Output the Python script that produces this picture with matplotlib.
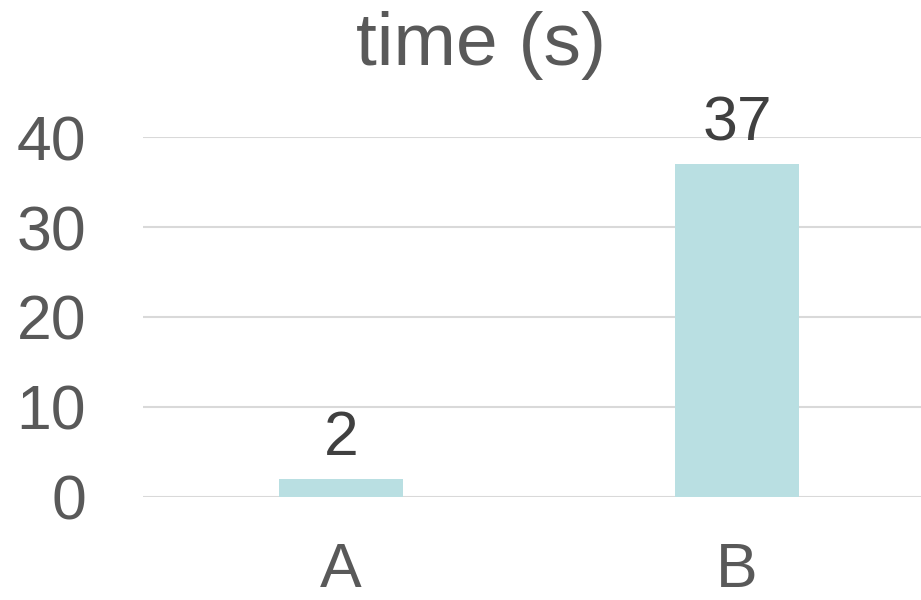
import matplotlib
matplotlib.use("Agg")
import matplotlib.pyplot as plt

categories = ["A", "B"]
values = [2, 37]
yticks = [0, 10, 20, 30, 40]
title = "time (s)"

plt.rcParams['font.family'] = ['Liberation Sans', 'DejaVu Sans']

W, H = 921, 600
fig = plt.figure(figsize=(W / 100, H / 100), dpi=100)
ax = fig.add_axes([143 / W, 103 / H, 792 / W, 360 / H])

x = list(range(len(categories)))
bars = ax.bar(x, values, width=0.313, color="#B9DFE2", zorder=3)
ax.set_xlim(-0.5, len(categories) - 0.5)
ax.set_ylim(0, 40)
ax.set_yticks(yticks)
ax.set_xticks(x)
ax.set_xticklabels(categories)

ax.grid(axis="y", color="#D9D9D9", linewidth=1.5, zorder=0)
for s in ax.spines.values():
    s.set_visible(False)
ax.tick_params(axis="both", length=0, labelsize=45, labelcolor="#595959")
ax.tick_params(axis="y", pad=41)
ax.tick_params(axis="x", pad=32)

for xi, v in zip(x, values):
    ax.annotate(str(v), (xi, v), xytext=(0, 17), textcoords="offset points",
                ha="center", va="baseline", fontsize=45, color="#404040")

fig.text(481 / W, 1 - 65 / H, title, ha="center", va="baseline",
         fontsize=54, color="#595959")

fig.savefig("out.png", dpi=100)
